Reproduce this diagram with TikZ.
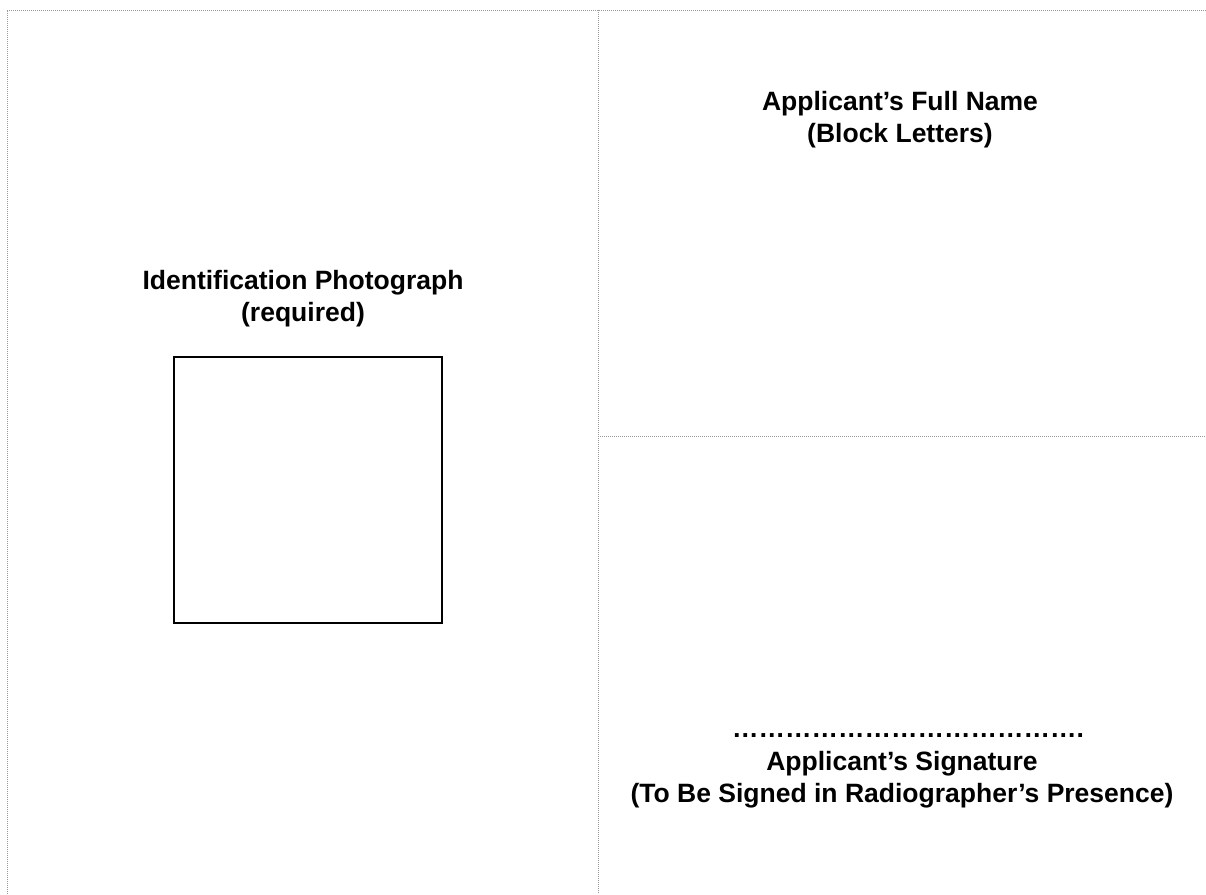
\documentclass[tikz,border=0pt]{standalone}
\usepackage{fontspec}
\setmainfont{Liberation Sans}
\newcommand\myeldot{…}
\begin{document}
\begin{tikzpicture}[x=1pt,y=-1pt,
  divider/.style={draw=gray!80, line width=1pt, dash pattern=on 1pt off 1pt},
  photobox/.style={draw=black, line width=1.5pt},
  label/.style={font=\fontsize{26.5}{32}\selectfont\bfseries, anchor=base, inner sep=0pt}]
\useasboundingbox (0,0) rectangle (1206,894);
\coordinate (tl) at (7,10);
\coordinate (tr) at (1206,10);
\coordinate (bl) at (7,894);
\coordinate (vt) at (598,10);
\coordinate (vb) at (598,894);
\coordinate (hl) at (598,436);
\coordinate (hr) at (1206,436);
\draw[divider] (bl) -- (tl) -- (tr);
\draw[divider] (vt) -- (vb);
\draw[divider] (hl) -- (hr);
\node[photobox, minimum width=268pt, minimum height=266pt, anchor=north west, inner sep=0pt] (photo) at (173,356) {};
\node[label] (idphoto) at (303,289) {Identification Photograph};
\node[label] (req) at (303,321) {(required)};
\node[label] (fullname) at (900,110) {Applicant’s Full Name};
\node[label] (block) at (900,142) {(Block Letters)};
\node[label] (dots) at (908,737) {\myeldot\myeldot\myeldot\myeldot\myeldot\myeldot\myeldot\myeldot\myeldot\myeldot\myeldot\myeldot\myeldot.};
\node[label] (sig) at (902,770) {Applicant’s Signature};
\node[label] (presence) at (902,802) {(To Be Signed in Radiographer’s Presence)};
\end{tikzpicture}
\end{document}
